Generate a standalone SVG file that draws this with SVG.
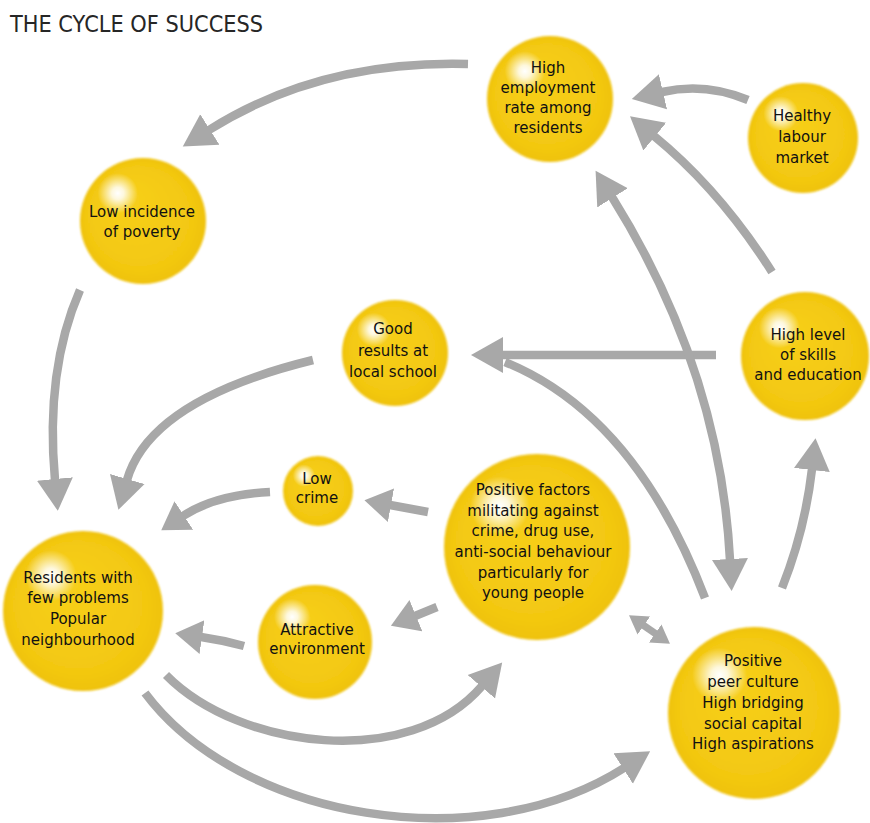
<svg xmlns="http://www.w3.org/2000/svg" width="870" height="823" viewBox="0 0 870 823">
  <style>
    .title { font-family: "DejaVu Sans", "Liberation Sans", sans-serif; font-size: 23px; fill: #262626; }
    .lbl { font-family: "DejaVu Sans", "Liberation Sans", sans-serif; font-size: 15px; fill: #111111; text-anchor: middle; }
    .ball { fill: url(#yellow); filter: url(#soft); }
    .shine { fill: url(#shine); }
    .link { fill: none; stroke: #a8a8a8; stroke-width: 8.5; }
  </style>
  <defs>
    <radialGradient id="yellow" cx="0.5" cy="0.5" r="0.5" fx="0.35" fy="0.3">
      <stop offset="0" stop-color="#f7d01c"/>
      <stop offset="0.85" stop-color="#f3c811"/>
      <stop offset="1" stop-color="#efc20a"/>
    </radialGradient>
    <radialGradient id="shine" cx="0.3" cy="0.28" r="0.16">
      <stop offset="0" stop-color="#ffffff" stop-opacity="1"/>
      <stop offset="0.3" stop-color="#ffffff" stop-opacity="0.85"/>
      <stop offset="1" stop-color="#ffffff" stop-opacity="0"/>
    </radialGradient>
    <filter id="soft" x="-10%" y="-10%" width="120%" height="120%">
      <feGaussianBlur stdDeviation="0.9"/>
    </filter>
    <marker id="ah" markerUnits="userSpaceOnUse" markerWidth="34" markerHeight="38" viewBox="0 -19 34 38" refX="1" refY="0" orient="auto-start-reverse">
      <path d="M0,-18 L32,0 L0,18 z" fill="#a8a8a8"/>
    </marker>
    <marker id="ahm" markerUnits="userSpaceOnUse" markerWidth="30" markerHeight="36" viewBox="0 -18 30 36" refX="1" refY="0" orient="auto-start-reverse">
      <path d="M0,-17 L27,0 L0,17 z" fill="#a8a8a8"/>
    </marker>
    <marker id="ahs" markerUnits="userSpaceOnUse" markerWidth="20" markerHeight="24" viewBox="0 -12 20 24" refX="1" refY="0" orient="auto-start-reverse">
      <path d="M0,-11 L18,0 L0,11 z" fill="#a8a8a8"/>
    </marker>
  </defs>

  <rect width="870" height="823" fill="#ffffff"/>

  <text class="title" x="10" y="32" textLength="253" lengthAdjust="spacingAndGlyphs">THE CYCLE OF SUCCESS</text>

  <g id="connectors">
    <!-- employment -> poverty -->
    <path class="link" d="M468,64 Q320,60 209,130" marker-end="url(#ah)"/>
    <!-- poverty -> residents -->
    <path class="link" d="M80,290 Q45,370 55,480" marker-end="url(#ah)"/>
    <!-- school -> residents -->
    <path class="link" d="M313,360 Q150,400 127,480" marker-end="url(#ah)"/>
    <!-- low crime -> residents -->
    <path class="link" d="M270,492 Q215,495 183,516" marker-end="url(#ahm)"/>
    <!-- positive factors -> low crime -->
    <path class="link" d="M428,512 L390,505" marker-end="url(#ahm)"/>
    <!-- positive factors -> attractive environment -->
    <path class="link" d="M437,607 L415,616" marker-end="url(#ahm)"/>
    <!-- attractive environment -> residents -->
    <path class="link" d="M244,646 Q222,640 201,637" marker-end="url(#ahm)"/>
    <!-- residents -> positive factors -->
    <path class="link" d="M166,675 C240,750 410,770 482,686" marker-end="url(#ah)"/>
    <!-- residents -> peer culture -->
    <path class="link" d="M145,693 C240,820 480,860 624,768" marker-end="url(#ah)"/>
    <!-- skills -> school -->
    <path class="link" d="M716,355 L502,355" marker-end="url(#ah)"/>
    <!-- peer culture -> school (joins the same head) -->
    <path class="link" d="M705,598 Q635,415 505,362"/>
    <!-- employment <-> peer culture -->
    <path class="link" d="M612,197 Q720,370 730,560" marker-start="url(#ah)" marker-end="url(#ah)"/>
    <!-- skills -> employment -->
    <path class="link" d="M772,272 Q720,190 654,136" marker-end="url(#ah)"/>
    <!-- labour market -> employment -->
    <path class="link" d="M748,100 Q705,82 662,92" marker-end="url(#ah)"/>
    <!-- peer culture -> skills -->
    <path class="link" d="M782,588 Q805,530 812,469" marker-end="url(#ah)"/>
    <!-- positive factors <-> peer culture -->
    <path class="link" style="stroke-width:7" d="M643,625 L656,634" marker-start="url(#ahs)" marker-end="url(#ahs)"/>
  </g>

  <g id="node-employment">
    <circle class="ball" cx="550" cy="99" r="63"/>
    <circle class="shine" cx="550" cy="99" r="63"/>
    <text class="lbl"><tspan x="548" y="73">High</tspan><tspan x="548" y="93">employment</tspan><tspan x="548" y="113">rate among</tspan><tspan x="548" y="133">residents</tspan></text>
  </g>

  <g id="node-labour">
    <circle class="ball" cx="803" cy="138" r="55"/>
    <circle class="shine" cx="803" cy="138" r="55"/>
    <text class="lbl"><tspan x="802" y="121">Healthy</tspan><tspan x="802" y="142">labour</tspan><tspan x="802" y="163">market</tspan></text>
  </g>

  <g id="node-poverty">
    <circle class="ball" cx="143" cy="221" r="63"/>
    <circle class="shine" cx="143" cy="221" r="63"/>
    <text class="lbl"><tspan x="142" y="217">Low incidence</tspan><tspan x="142" y="237">of poverty</tspan></text>
  </g>

  <g id="node-school">
    <circle class="ball" cx="395" cy="353" r="53"/>
    <circle class="shine" cx="395" cy="353" r="53"/>
    <text class="lbl"><tspan x="393" y="334">Good</tspan><tspan x="393" y="356">results at</tspan><tspan x="393" y="377">local school</tspan></text>
  </g>

  <g id="node-skills">
    <circle class="ball" cx="805" cy="356" r="64"/>
    <circle class="shine" cx="805" cy="356" r="64"/>
    <text class="lbl"><tspan x="808" y="340">High level</tspan><tspan x="808" y="360">of skills</tspan><tspan x="808" y="380">and education</tspan></text>
  </g>

  <g id="node-lowcrime">
    <circle class="ball" cx="318" cy="491" r="35"/>
    <circle class="shine" cx="318" cy="491" r="35"/>
    <text class="lbl"><tspan x="317" y="484">Low</tspan><tspan x="317" y="503">crime</tspan></text>
  </g>

  <g id="node-factors">
    <circle class="ball" cx="537" cy="547" r="93"/>
    <circle class="shine" cx="537" cy="547" r="93"/>
    <text class="lbl"><tspan x="533" y="495">Positive factors</tspan><tspan x="533" y="515.5">militating against</tspan><tspan x="533" y="536">crime, drug use,</tspan><tspan x="533" y="557">anti-social behaviour</tspan><tspan x="533" y="577.5">particularly for</tspan><tspan x="533" y="598">young people</tspan></text>
  </g>

  <g id="node-residents">
    <circle class="ball" cx="83" cy="611" r="80"/>
    <circle class="shine" cx="83" cy="611" r="80"/>
    <text class="lbl"><tspan x="78" y="583">Residents with</tspan><tspan x="78" y="603">few problems</tspan><tspan x="78" y="624">Popular</tspan><tspan x="78" y="645">neighbourhood</tspan></text>
  </g>

  <g id="node-environment">
    <circle class="ball" cx="315" cy="642" r="57"/>
    <circle class="shine" cx="315" cy="642" r="57"/>
    <text class="lbl"><tspan x="317" y="635">Attractive</tspan><tspan x="317" y="654">environment</tspan></text>
  </g>

  <g id="node-peer">
    <circle class="ball" cx="754" cy="713" r="86"/>
    <circle class="shine" cx="754" cy="713" r="86"/>
    <text class="lbl"><tspan x="753" y="666">Positive</tspan><tspan x="753" y="687">peer culture</tspan><tspan x="753" y="708">High bridging</tspan><tspan x="753" y="729">social capital</tspan><tspan x="753" y="749">High aspirations</tspan></text>
  </g>
</svg>
